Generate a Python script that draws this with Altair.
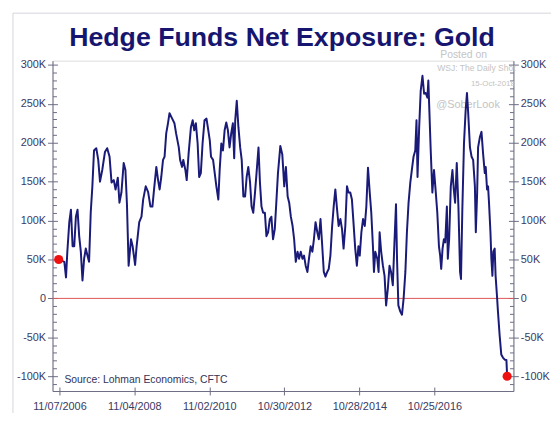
import altair as alt
import pandas as pd

# ---- data (net exposure, thousands of contracts) ----
dates = [
    "2006-10-31", "2006-12-25", "2007-01-10", "2007-01-23", "2007-02-11", "2007-02-27",
    "2007-03-15", "2007-03-31", "2007-04-16", "2007-05-02", "2007-05-18", "2007-06-03",
    "2007-06-19", "2007-07-05", "2007-07-21", "2007-08-06", "2007-08-22", "2007-09-07",
    "2007-09-23", "2007-10-09", "2007-10-31", "2007-11-19", "2007-12-06", "2007-12-28",
    "2008-01-23", "2008-02-14", "2008-03-08", "2008-03-27", "2008-04-18", "2008-05-05",
    "2008-05-27", "2008-06-12", "2008-07-01", "2008-07-23", "2008-08-09", "2008-08-24",
    "2008-09-09", "2008-10-02", "2008-10-18", "2008-11-11", "2008-11-25", "2008-12-21",
    "2009-01-12", "2009-01-28", "2009-02-22", "2009-03-17", "2009-04-09", "2009-04-28",
    "2009-05-14", "2009-06-05", "2009-06-22", "2009-07-07", "2009-07-23", "2009-08-09",
    "2009-08-24", "2009-09-09", "2009-09-26", "2009-10-11", "2009-11-06", "2009-11-28",
    "2009-12-14", "2010-01-09", "2010-01-22", "2010-02-10", "2010-02-22", "2010-03-14",
    "2010-03-27", "2010-04-15", "2010-05-07", "2010-05-24", "2010-06-08", "2010-06-24",
    "2010-07-11", "2010-07-26", "2010-08-11", "2010-08-28", "2010-09-16", "2010-10-05",
    "2010-10-18", "2010-11-06", "2010-11-18", "2010-12-08", "2010-12-24", "2011-01-09",
    "2011-01-28", "2011-02-10", "2011-02-26", "2011-03-14", "2011-03-30", "2011-04-15",
    "2011-05-01", "2011-05-17", "2011-06-02", "2011-06-18", "2011-07-01", "2011-07-11",
    "2011-07-26", "2011-08-11", "2011-08-28", "2011-09-12", "2011-09-28", "2011-10-15",
    "2011-10-30", "2011-11-15", "2011-12-02", "2011-12-17", "2012-01-02", "2012-01-19",
    "2012-02-03", "2012-02-22", "2012-03-07", "2012-03-22", "2012-04-07", "2012-04-24",
    "2012-05-09", "2012-05-25", "2012-06-11", "2012-06-26", "2012-07-12", "2012-07-29",
    "2012-08-13", "2012-08-29", "2012-09-21", "2012-10-10", "2012-10-29", "2012-11-14",
    "2012-12-01", "2012-12-16", "2013-01-01", "2013-01-18", "2013-02-02", "2013-02-18",
    "2013-03-07", "2013-03-22", "2013-04-07", "2013-04-24", "2013-05-09", "2013-05-25",
    "2013-06-11", "2013-06-26", "2013-07-12", "2013-07-29", "2013-08-13", "2013-08-29",
    "2013-09-15", "2013-09-30", "2013-10-16", "2013-11-02", "2013-11-17", "2013-12-03",
    "2013-12-20", "2014-01-04", "2014-01-20", "2014-02-06", "2014-02-21", "2014-03-09",
    "2014-03-26", "2014-04-10", "2014-04-27", "2014-05-13", "2014-05-28", "2014-06-14",
    "2014-06-30", "2014-07-15", "2014-08-01", "2014-08-17", "2014-09-01", "2014-09-18",
    "2014-10-04", "2014-10-19", "2014-11-01", "2014-11-17", "2014-12-03", "2014-12-20",
    "2015-01-04", "2015-01-20", "2015-02-06", "2015-02-21", "2015-03-09", "2015-03-19",
    "2015-04-01", "2015-04-20", "2015-05-03", "2015-05-13", "2015-05-28", "2015-06-14",
    "2015-06-30", "2015-07-15", "2015-08-01", "2015-08-17", "2015-09-01", "2015-09-18",
    "2015-10-04", "2015-10-19", "2015-10-29", "2015-11-11", "2015-11-30", "2015-12-16",
    "2016-01-01", "2016-01-18", "2016-02-02", "2016-02-18", "2016-03-06", "2016-03-21",
    "2016-04-06", "2016-04-23", "2016-05-05", "2016-05-15", "2016-05-31", "2016-06-15",
    "2016-07-02", "2016-07-18", "2016-08-02", "2016-08-19", "2016-08-28", "2016-09-07",
    "2016-09-19", "2016-10-06", "2016-10-22", "2016-11-06", "2016-11-23", "2016-12-09",
    "2016-12-21", "2016-12-31", "2017-01-13", "2017-01-26", "2017-02-08", "2017-02-24",
    "2017-03-05", "2017-03-18", "2017-04-03", "2017-04-19", "2017-05-02", "2017-05-15",
    "2017-05-31", "2017-06-16", "2017-07-02", "2017-07-11", "2017-07-24", "2017-08-09",
    "2017-08-25", "2017-09-07", "2017-09-19", "2017-10-06", "2017-10-22", "2017-11-06",
    "2017-11-23", "2017-12-02", "2017-12-15", "2017-12-24", "2018-01-10", "2018-01-26",
    "2018-02-10", "2018-02-27", "2018-03-08", "2018-03-21", "2018-03-31", "2018-04-09",
    "2018-04-23", "2018-05-02", "2018-05-12", "2018-05-21", "2018-06-03", "2018-06-12",
    "2018-06-25", "2018-07-05", "2018-07-21", "2018-08-06", "2018-08-22", "2018-09-11",
    "2018-09-25", "2018-10-02",
]
net_k = [
    50, 47, 27, 60, 98, 114,
    67, 67, 105, 114, 80, 60,
    23, 51, 64, 55, 47, 110,
    144, 190, 193, 178, 150, 165,
    188, 193, 182, 149, 152, 140,
    155, 123, 136, 174, 165, 120,
    42, 76, 67, 43, 66, 98,
    105, 127, 144, 137, 118, 118,
    140, 169, 152, 140, 156, 178,
    182, 212, 225, 238, 231, 225,
    212, 194, 178, 169, 178, 165,
    152, 187, 220, 229, 216, 225,
    199, 156, 161, 199, 229, 231,
    220, 203, 182, 178, 161, 144,
    127, 165, 199, 190, 216, 226,
    216, 194, 212, 225, 180, 229,
    254, 220, 194, 178, 131, 131,
    156, 169, 149, 118, 110, 136,
    161, 194, 149, 118, 110, 110,
    80, 85, 102, 105, 76, 89,
    123, 161, 196, 185, 144, 169,
    131, 123, 105, 93, 76, 47,
    60, 51, 60, 51, 55, 42,
    34, 51, 67, 60, 76, 98,
    85, 76, 102, 67, 34, 28,
    34, 38, 55, 93, 118, 140,
    114, 93, 102, 89, 64, 93,
    144, 136, 136, 127, 98, 64,
    42, 67, 55, 85, 102, 93,
    118, 168, 136, 110, 67, 34,
    60, 51, 34, 85, 60, 42,
    29, -9, 13, 42, 34, 17,
    72, 121, 51, -9, -17, -21,
    0, 34, 85, 123, 149, 165,
    182, 190, 229, 156, 220, 267,
    286, 263, 264, 258, 280, 241,
    194, 136, 165, 140, 110, 67,
    55, 38, 64, 76, 72, 118,
    51, 76, 144, 165, 140, 123,
    174, 118, 34, 25, 114, 199,
    241, 264, 238, 194, 182, 178,
    144, 85, 136, 194, 207, 214,
    187, 161, 169, 140, 144, 123,
    85, 51, 29, 60, 64, 29,
    4, -17, -47, -72, -76, -79,
    -79, -100,
]

title_text = "Hedge Funds Net Exposure: Gold"
source_text = "Source: Lohman Economics, CFTC"
watermark_lines = ["Posted on", "WSJ: The Daily Shot", "15-Oct-2018", "@SoberLook"]
x_tick_dates = [(2006, 11, 7), (2008, 11, 4), (2010, 11, 2), (2012, 10, 30), (2014, 10, 28), (2016, 10, 25)]
y_major = [-100, -50, 0, 50, 100, 150, 200, 250, 300]
y_minor = [-110, -90, -80, -70, -60, -40, -30, -20, -10, 10, 20, 30, 40, 60, 70, 80, 90,
           110, 120, 130, 140, 160, 170, 180, 190, 210, 220, 230, 240, 260, 270, 280, 290]
zero_level = [0]

df = pd.DataFrame({"date": dates, "net": net_k})
ends = df.iloc[[0, len(df) - 1]].reset_index(drop=True)
zero_df = pd.DataFrame({"level": zero_level})
one = pd.DataFrame({"k": [0]})

NAVY = "#1a1a78"
AXIS_C = "#6c6c84"
LABEL_C = "#3a3a62"
FONT = "Liberation Sans"

x_scale = alt.Scale(type="utc",
                    domain=[alt.DateTime(year=2006, month=9, date=1, utc=True),
                            alt.DateTime(year=2018, month=12, date=2, utc=True)])
y_scale = alt.Scale(domain=[-119, 305.5], nice=False, zero=False)
x_vals = [alt.DateTime(year=y, month=m, date=d, utc=True) for (y, m, d) in x_tick_dates]
label_expr = "datum.value == 0 ? '0' : datum.value + 'K'"


def y_axis(orient, values, labels, offset, size, domain):
    kw = dict(orient=orient, values=values, labels=labels, offset=offset, tickSize=size,
              domain=domain, title=None, grid=False, tickColor=AXIS_C, domainColor=AXIS_C,
              tickWidth=1, domainWidth=1)
    if labels:
        kw.update(labelExpr=label_expr, labelFont=FONT, labelFontSize=11,
                  labelColor=LABEL_C, labelPadding=2)
    return alt.Axis(**kw)


def x_axis(labels, offset, domain):
    kw = dict(orient="bottom", values=x_vals, labels=labels, offset=offset, tickSize=4,
              domain=domain, title=None, grid=False, tickColor=AXIS_C, domainColor=AXIS_C,
              tickWidth=1, domainWidth=1)
    if labels:
        kw.update(labelExpr="utcFormat(datum.value, '%m/%d/%Y')", labelFont=FONT,
                  labelFontSize=11, labelColor=LABEL_C, labelPadding=6,
                  labelFlush=False, labelOverlap=False)
    return alt.Axis(**kw)


def note(text, x, y, size, color, align="left", weight="normal"):
    return alt.Chart(one).mark_text(
        text=text, font=FONT, fontSize=size, color=color, align=align,
        baseline="alphabetic", fontWeight=weight
    ).encode(x=alt.value(x), y=alt.value(y))


border = alt.Chart(one).mark_rect(fillOpacity=0, stroke="#d6d6dc", strokeWidth=1).encode(
    x=alt.value(-40), x2=alt.value(540), y=alt.value(-48), y2=alt.value(400))

title_mark = note(title_text, 232, -15, 27, "#161670", align="center", weight="bold")

marks_wm = [
    note(watermark_lines[0], 392, -3, 10.5, "#c4c4c4"),
    note(watermark_lines[1], 389, 10, 8.6, "#c4c4c4"),
    note(watermark_lines[2], 423, 26, 8, "#c4c4c4"),
    note(watermark_lines[3], 388, 48, 11, "#c4c4c4"),
]
source = note(source_text, 12, 326, 10.5, "#333358")

zero_rule = alt.Chart(zero_df).mark_rule(color="#dd5555", strokeWidth=1).encode(
    y=alt.Y("level:Q", scale=y_scale, axis=y_axis("right", y_major, True, 0, 5, True)))

line = alt.Chart(df).mark_line(color=NAVY, strokeWidth=2, strokeJoin="round").encode(
    x=alt.X("date:T", scale=x_scale, axis=x_axis(True, 0, True)),
    y=alt.Y("net:Q", scale=y_scale, axis=y_axis("left", y_major, True, 0, 5, True)),
)

dots = alt.Chart(ends).mark_circle(color="#ee1111", opacity=1, size=85).encode(
    x=alt.X("date:T", scale=x_scale, axis=x_axis(False, -4, False)),
    y=alt.Y("net:Q", scale=y_scale, axis=y_axis("left", y_major, False, -5, 5, False)),
)


def ghost(axis):
    return alt.Chart(ends).mark_point(opacity=0).encode(
        x=alt.X("date:T", scale=x_scale, axis=None),
        y=alt.Y("net:Q", scale=y_scale, axis=axis),
    )


ghosts = [
    ghost(y_axis("left", y_minor, False, -4, 4, False)),
    ghost(y_axis("right", y_major, False, -5, 5, False)),
    ghost(y_axis("right", y_minor, False, -4, 4, False)),
]

chart = alt.layer(
    border, title_mark, *marks_wm, source, zero_rule, line, dots, *ghosts
).resolve_axis(x="independent", y="independent").properties(
    width=466, height=334,
    autosize=alt.AutoSizeParams(type="none"),
    padding={"left": 45, "top": 51, "right": 38, "bottom": 20},
).configure_view(stroke="#cdcdd6", strokeWidth=1).configure(background="white")

chart.save("out.html", embed_options={"renderer": "svg", "actions": False})
